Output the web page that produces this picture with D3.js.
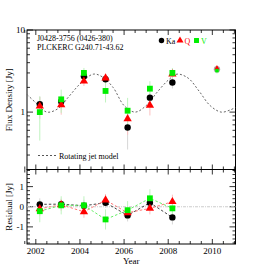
<!DOCTYPE html>
<html>
<head>
<meta charset="utf-8">
<script src="https://cdn.jsdelivr.net/npm/d3@7"></script>
<style>
  html, body { margin: 0; padding: 0; background: #fff; }
  svg { display: block; font-family: "Liberation Serif", "DejaVu Serif", serif; }
</style>
</head>
<body>
<div id="chart"></div>
<script>
// Observation epochs (years)
const years = [2002.18, 2003.15, 2004.18, 2005.16, 2006.16, 2007.17, 2008.19];
const planckYear = 2010.21;

// Flux densities [Jy] per band
const kaFlux = [1.25, 1.35, 2.73, 2.51, 0.65, 1.5, 2.29];
const qFlux = [1.18, 1.23, 2.38, 2.6, 0.83, 1.21, 2.9];
const vFlux = [1.0, 1.43, 3.0, 1.81, 1.04, 1.93, 3.0];
const kaErr = [0.3, 0.25, 0.3, 0.25, 0.3, 0.3, 0.35];
const qErr = [0.35, 0.3, 0.3, 0.3, 0.3, 0.3, 0.35];
const vErr = [0.55, 0.45, 0.45, 0.5, 0.45, 0.45, 0.45];

// 2010 point (grey)
const planckFlux = [3.33, 3.45, 3.2];
const planckErr = [0.2, 0.2, 0.25];

// Residuals [Jy]
const kaRes = [0.12, 0.13, 0.05, 0.2, -0.43, 0.2, -0.53];
const qRes = [-0.1, 0.1, -0.25, 0.33, -0.3, -0.08, 0.25];
const vRes = [-0.22, 0.07, 0.07, -0.63, -0.17, 0.42, -0.08];

// Rotating jet model
const modelYears = [2001.6, 2002.0, 2002.5, 2003.0, 2003.5, 2004.0, 2004.6, 2005.0, 2005.5, 2006.0, 2006.5, 2007.0, 2007.5, 2008.0, 2008.4, 2008.9, 2009.4, 2009.9, 2010.4, 2010.8, 2011.05];
const modelFlux = [1.64, 1.3, 1.0, 1.1, 1.55, 2.2, 2.9, 2.7, 2.0, 1.2, 1.0, 1.2, 1.75, 2.45, 2.9, 2.6, 1.8, 1.2, 1.0, 1.06, 1.14];

const xTicks = [2002, 2004, 2006, 2008, 2010];

const W = 262, H = 271;
const L = 27, R = 235.5;
const topT = 30, topB = 169.5, resB = 244;

const svg = d3.select("#chart").append("svg")
  .attr("width", W).attr("height", H);

const x = d3.scaleLinear().domain([2001.6, 2011.05]).range([L, R]);
const yTop = d3.scaleLog().domain([0.2, 10]).range([topB, topT]);
const yRes = d3.scaleLinear().domain([-1.85, 1.85]).range([resB, topB]);

const bands = [
  { name: "Ka", flux: kaFlux, err: kaErr, res: kaRes, color: "#000", light: "#d6d6d6", dash: "#444", shape: "circle" },
  { name: "Q", flux: qFlux, err: qErr, res: qRes, color: "#f00", light: "#fbc0c0", dash: "#f77", shape: "triangle" },
  { name: "V", flux: vFlux, err: vErr, res: vRes, color: "#0e0", light: "#bff3bf", dash: "#6e6", shape: "square" }
];

function marker(g, shape, cx, cy, color, scale = 1) {
  if (shape === "circle") {
    g.append("circle").attr("cx", cx).attr("cy", cy).attr("r", 3.2 * scale).attr("fill", color);
  } else {
    const sym = shape === "triangle" ? d3.symbolTriangle : d3.symbolSquare;
    const size = (shape === "triangle" ? 30 : 34) * scale * scale;
    g.append("path").attr("d", d3.symbol(sym, size)())
      .attr("transform", `translate(${cx},${cy})`).attr("fill", color);
  }
}

// Frame + ticks
function frame(yT, yB) {
  svg.append("rect").attr("x", L).attr("y", yT).attr("width", R - L).attr("height", yB - yT)
    .attr("fill", "none").attr("stroke", "#000").attr("stroke-width", 1);
  const minor = d3.range(2001.5, 2011.1, 0.5);
  minor.forEach(t => {
    const len = xTicks.includes(t) ? 5 : 3;
    [[yB, -len], [yT, len]].forEach(([y0, d]) => {
      svg.append("line").attr("x1", x(t)).attr("x2", x(t)).attr("y1", y0).attr("y2", y0 + d)
        .attr("stroke", "#000").attr("stroke-width", 0.8);
    });
  });
}
frame(topT, topB);
frame(topB, resB);

// top panel y ticks
const logTicks = [];
[0.1, 1].forEach(dec => d3.range(1, 10).forEach(m => {
  const v = dec * m;
  if (v >= 0.2 && v <= 10) logTicks.push(v);
}));
logTicks.push(10);
logTicks.forEach(v => {
  const len = (v === 1 || v === 10) ? 6 : 3;
  [[L, len], [R, -len]].forEach(([x0, d]) => {
    svg.append("line").attr("x1", x0).attr("x2", x0 + d).attr("y1", yTop(v)).attr("y2", yTop(v))
      .attr("stroke", "#000").attr("stroke-width", 0.8);
  });
});
[1, 10].forEach(v => {
  svg.append("text").attr("x", L - 2).attr("y", yTop(v) + 3).attr("text-anchor", "end")
    .attr("font-size", 9).text(v);
});

// residual y ticks
d3.range(-1.8, 1.81, 0.2).forEach(v => {
  const major = Math.abs(v - Math.round(v)) < 0.01;
  const len = major ? 6 : 3;
  [[L, len], [R, -len]].forEach(([x0, d]) => {
    svg.append("line").attr("x1", x0).attr("x2", x0 + d).attr("y1", yRes(v)).attr("y2", yRes(v))
      .attr("stroke", "#000").attr("stroke-width", 0.8);
  });
});
[1, 0, -1].forEach(v => {
  svg.append("text").attr("x", L - 3).attr("y", yRes(v) + 3).attr("text-anchor", "end")
    .attr("font-size", 9).text(v);
});

// x tick labels
xTicks.forEach(t => {
  svg.append("text").attr("x", x(t)).attr("y", 254).attr("text-anchor", "middle")
    .attr("font-size", 9).text(t);
});

// axis titles
svg.append("text").attr("transform", `translate(12,${(topT + topB) / 2}) rotate(-90)`)
  .attr("text-anchor", "middle").attr("font-size", 9).text("Flux Density [Jy]");
svg.append("text").attr("transform", `translate(12,${(topB + resB) / 2}) rotate(-90)`)
  .attr("text-anchor", "middle").attr("font-size", 9).text("Residual [Jy]");
svg.append("text").attr("x", (L + R) / 2).attr("y", 264).attr("text-anchor", "middle")
  .attr("font-size", 9).text("Year");

// model curve
const modelLine = d3.line().x(d => x(d[0])).y(d => yTop(d[1])).curve(d3.curveCatmullRom);
svg.append("path").datum(modelYears.map((t, i) => [t, modelFlux[i]]))
  .attr("d", modelLine).attr("fill", "none").attr("stroke", "#666")
  .attr("stroke-width", 1).attr("stroke-dasharray", "2,2");

// error bars top panel
const gTop = svg.append("g");
bands.forEach(b => {
  years.forEach((t, i) => {
    gTop.append("line").attr("x1", x(t)).attr("x2", x(t))
      .attr("y1", yTop(b.flux[i] - b.err[i])).attr("y2", yTop(b.flux[i] + b.err[i]))
      .attr("stroke", b.light).attr("stroke-width", 1);
  });
});
bands.forEach((b, k) => {
  gTop.append("line").attr("x1", x(planckYear)).attr("x2", x(planckYear))
    .attr("y1", yTop(planckFlux[k] - planckErr[k])).attr("y2", yTop(planckFlux[k] + planckErr[k]))
    .attr("stroke", b.light).attr("stroke-width", 1);
});
bands.forEach(b => {
  years.forEach((t, i) => marker(gTop, b.shape, x(t), yTop(b.flux[i]), b.color));
});
marker(gTop, "circle", x(planckYear), yTop(planckFlux[0]), "#aaa");
marker(gTop, "triangle", x(planckYear), yTop(planckFlux[1]), "#f00", 0.6);
marker(gTop, "square", x(planckYear), yTop(planckFlux[2]), "#0e0", 0.6);

// annotations
svg.append("text").attr("x", 37).attr("y", 41).attr("font-size", 8).text("J0428-3756 (0426-380)");
svg.append("text").attr("x", 37).attr("y", 49.5).attr("font-size", 8).text("PLCKERC G240.71-43.62");

// legend
const lg = svg.append("g");
const legendX = [161.5, 180, 196.5];
bands.forEach((b, k) => {
  marker(lg, b.shape, legendX[k], 40.5, b.color, 0.85);
  lg.append("text").attr("x", legendX[k] + 4.5).attr("y", 43.5).attr("font-size", 8)
    .attr("fill", b.color).text(b.name);
});
svg.append("line").attr("x1", 38).attr("x2", 56).attr("y1", 155.5).attr("y2", 155.5)
  .attr("stroke", "#555").attr("stroke-dasharray", "2,2");
svg.append("text").attr("x", 59).attr("y", 158.5).attr("font-size", 8).text("Rotating jet model");

// residual panel
svg.append("line").attr("x1", L).attr("x2", R).attr("y1", yRes(0)).attr("y2", yRes(0))
  .attr("stroke", "#ccc").attr("stroke-dasharray", "3,1,1,1");
const gRes = svg.append("g");
bands.forEach(b => {
  years.forEach((t, i) => {
    gRes.append("line").attr("x1", x(t)).attr("x2", x(t))
      .attr("y1", yRes(b.res[i] - b.err[i])).attr("y2", yRes(b.res[i] + b.err[i]))
      .attr("stroke", b.light).attr("stroke-width", 1);
  });
});
const resLine = d3.line().x(d => x(d[0])).y(d => yRes(d[1]));
bands.forEach(b => {
  gRes.append("path").datum(years.map((t, i) => [t, b.res[i]]))
    .attr("d", resLine).attr("fill", "none").attr("stroke", b.dash)
    .attr("stroke-width", 1).attr("stroke-dasharray", "2.5,2");
});
bands.forEach(b => {
  years.forEach((t, i) => marker(gRes, b.shape, x(t), yRes(b.res[i]), b.color));
});
</script>
</body>
</html>
